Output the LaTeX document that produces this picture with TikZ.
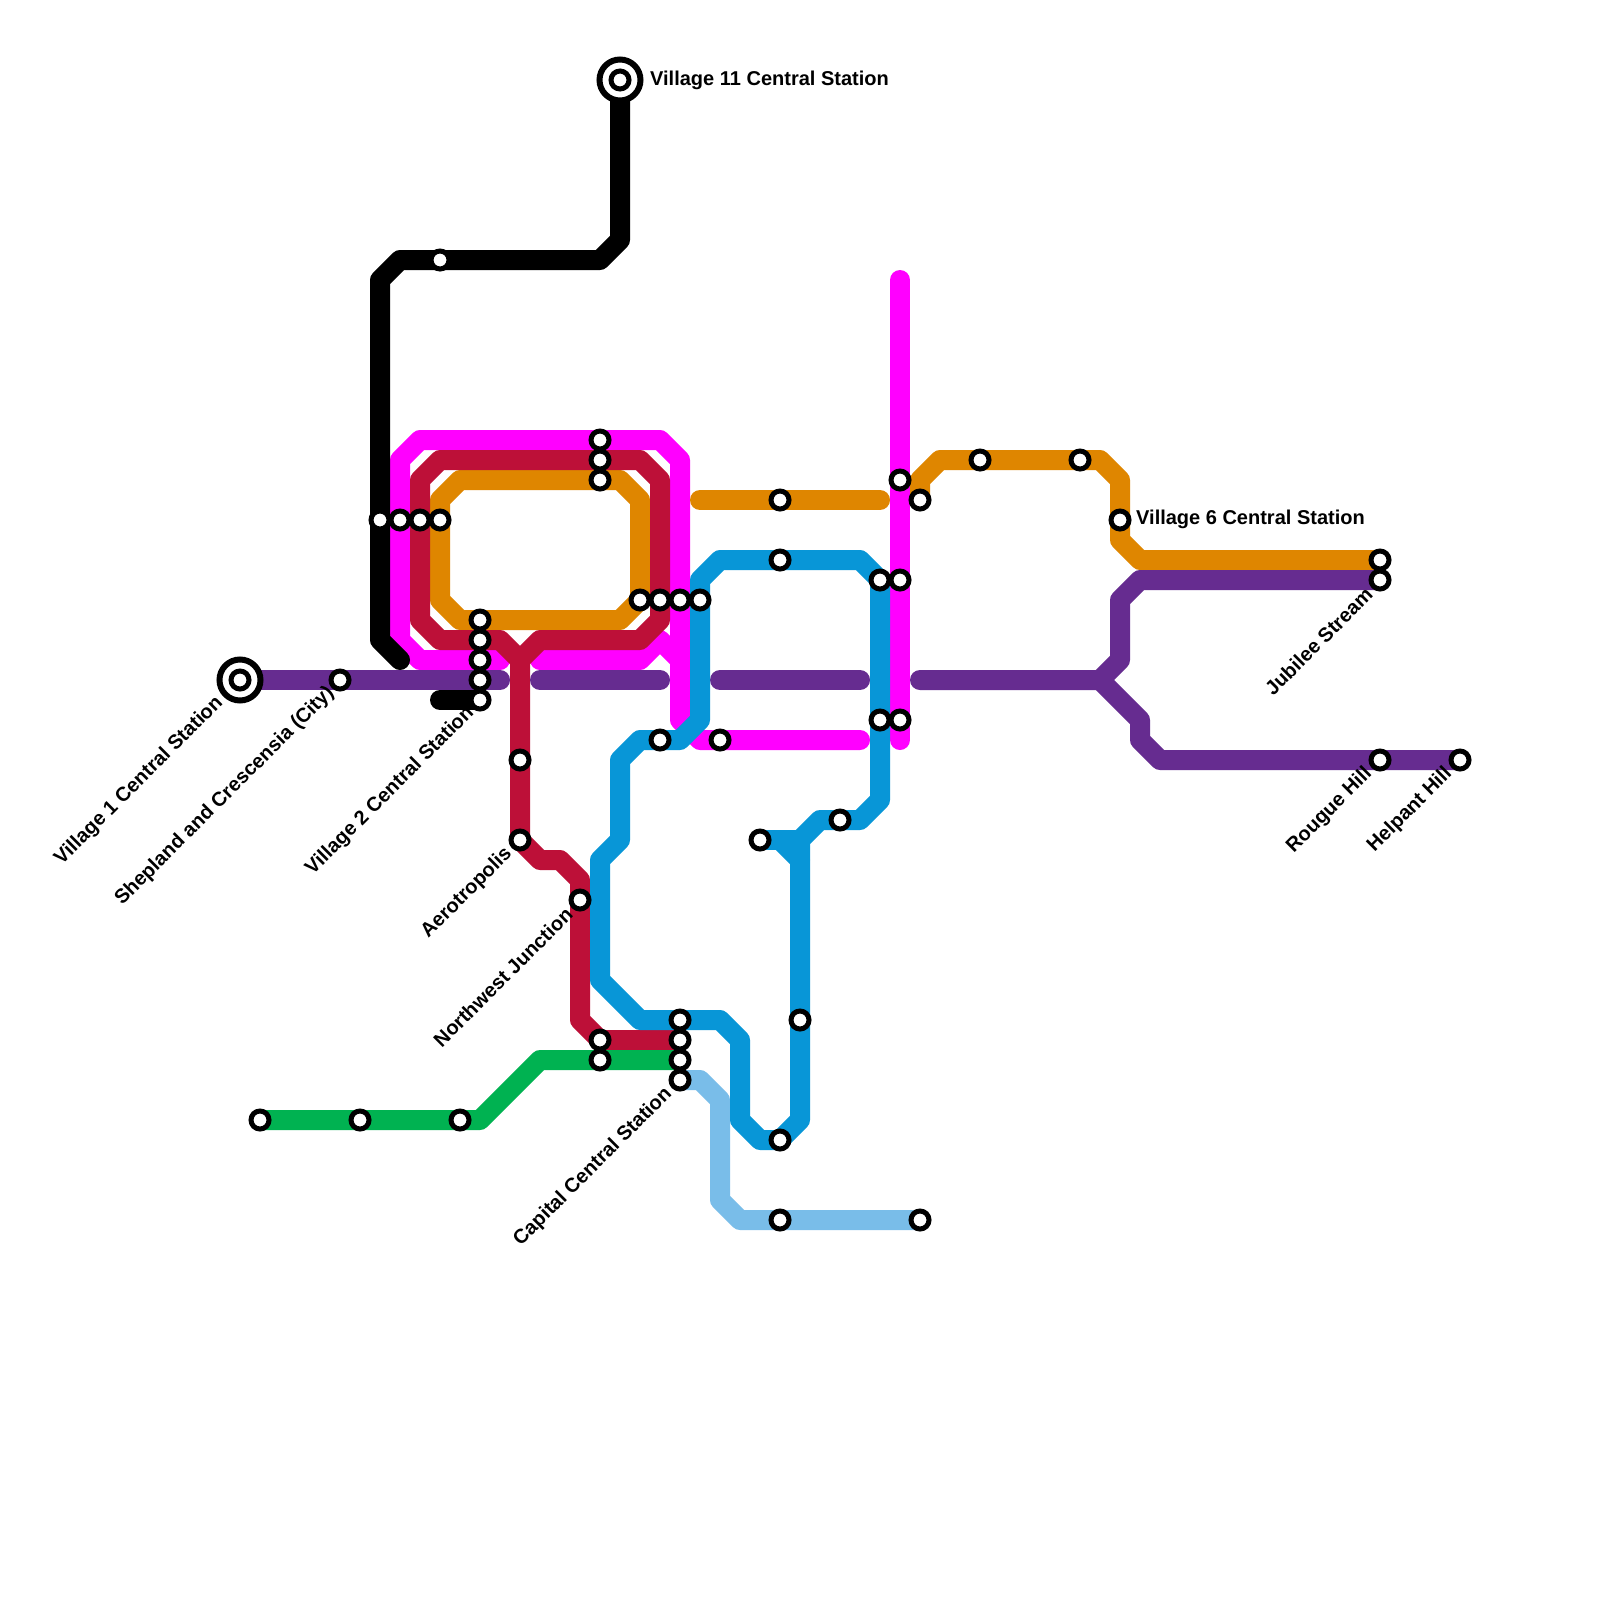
\documentclass[tikz,border=0pt]{standalone}
\usepackage{fontspec}
\setmainfont{Liberation Sans}
\definecolor{lblack}{HTML}{000000}
\definecolor{lmag}{HTML}{FF00FF}
\definecolor{lred}{HTML}{BD1038}
\definecolor{lorange}{HTML}{DF8600}
\definecolor{lpurple}{HTML}{662C90}
\definecolor{lblue}{HTML}{0896D7}
\definecolor{lsky}{HTML}{79BDE9}
\definecolor{lgreen}{HTML}{00B251}
\tikzset{
  metro/.style={line width=20pt,line cap=round,line join=round},
  stn/.style={circle,draw=black,fill=white,line width=5pt,minimum size=18pt,inner sep=0pt,outer sep=0pt},
  hub/.style={circle,draw=black,fill=white,line width=6pt,minimum size=41pt,inner sep=0pt,outer sep=0pt},
  lblr/.style={font=\bfseries\fontsize{20}{22}\selectfont,text=black,inner sep=0pt,anchor=east,rotate=45},
  lbls/.style={font=\bfseries\fontsize{20}{22}\selectfont,text=black,inner sep=0pt,anchor=west}
}
\begin{document}
\begin{tikzpicture}[x=1pt,y=-1pt]
\useasboundingbox (0,0) rectangle (1600,1600);
\fill[white] (0,0) rectangle (1600,1600);
\foreach \n/\x/\y in {
 v11/620/80, bka/440/260, bkb/380/520, mga/400/520, rda/420/520, ora/440/520,
 vii/480/620, vib/480/640, vic/480/660, v2p/480/680, v2/480/700,
 tpa/600/440, tpb/600/460, tpc/600/480,
 rta/640/600, rtb/660/600, rtc/680/600, rtd/700/600,
 v1/240/680, she/340/680, gra/260/1120, grb/360/1120, grc/460/1120,
 rdb/520/760, aer/520/840, nwj/580/900,
 blc/660/740, mgb/720/740, ore/780/500, blh/780/560,
 blr/880/580, mgc/900/580, bls/880/720, mgd/900/720,
 mge/900/480, orf/920/500, org/980/460, orh/1080/460, v6/1120/520,
 jub/1380/560, jup/1380/580, rou/1380/760, hel/1460/760,
 bld/760/840, ble/840/820, blf/800/1020, blg/780/1140, ska/780/1220, skb/920/1220,
 loa/600/1040, lob/600/1060, cca/680/1020, ccb/680/1040, ccc/680/1060, cap/680/1080}
 {\coordinate (\n) at (\x,\y);}
% magenta
\draw[metro,lmag] (500,660) -- (vic) -- (420,660) -- (400,640) -- (mga) -- (400,460) -- (420,440) -- (tpa) -- (660,440) -- (680,460) -- (rtc) -- (680,720) -- (700,740) -- (mgb) -- (860,740);
\draw[metro,lmag] (540,660) -- (640,660) -- (660,640) -- (680,660);
\draw[metro,lmag] (900,280) -- (mge) -- (mgc) -- (mgd) -- (900,740);
% orange
\draw[metro,lorange] (440,500) -- (460,480) -- (tpc) -- (620,480) -- (640,500) -- (rta) -- (620,620) -- (vii) -- (460,620) -- (440,600) -- cycle;
\draw[metro,lorange] (700,500) -- (ore) -- (880,500);
\draw[metro,lorange] (orf) -- (920,480) -- (940,460) -- (org) -- (orh) -- (1100,460) -- (1120,480) -- (v6) -- (1120,540) -- (1140,560) -- (jub);
% crimson
\draw[metro,lred] (420,480) -- (440,460) -- (tpb) -- (640,460) -- (660,480) -- (rtb) -- (660,620) -- (640,640) -- (540,640) -- (520,660) -- (500,640) -- (vib) -- (440,640) -- (420,620) -- cycle;
\draw[metro,lred] (520,660) -- (rdb) -- (aer) -- (540,860) -- (560,860) -- (580,880) -- (nwj) -- (580,1020) -- (loa) -- (ccb);
% green
\draw[metro,lgreen] (gra) -- (grb) -- (grc) -- (480,1120) -- (540,1060) -- (lob) -- (ccc);
% purple
\draw[metro,lpurple] (v1) -- (she) -- (v2p) -- (500,680);
\draw[metro,lpurple] (540,680) -- (660,680);
\draw[metro,lpurple] (720,680) -- (860,680);
\draw[metro,lpurple] (920,680) -- (1100,680) -- (1120,660) -- (1120,600) -- (1140,580) -- (jup);
\draw[metro,lpurple] (1100,680) -- (1140,720) -- (1140,740) -- (1160,760) -- (rou) -- (hel);
% light blue
\draw[metro,lsky] (cap) -- (700,1080) -- (720,1100) -- (720,1200) -- (740,1220) -- (ska) -- (skb);
% blue
\draw[metro,lblue] (rtd) -- (700,580) -- (720,560) -- (blh) -- (860,560) -- (blr) -- (bls) -- (880,800) -- (860,820) -- (ble) -- (820,820) -- (800,840) -- (blf) -- (800,1120) -- (blg) -- (760,1140) -- (740,1120) -- (740,1040) -- (720,1020) -- (cca) -- (640,1020) -- (600,980) -- (600,860) -- (620,840) -- (620,760) -- (640,740) -- (blc) -- (680,740) -- (700,720) -- cycle;
\draw[metro,lblue] (bld) -- (800,840);
\draw[metro,lblue] (780,840) -- (800,860);
% black
\draw[metro,lblack] (v11) -- (620,240) -- (600,260) -- (bka) -- (400,260) -- (380,280) -- (bkb) -- (380,640) -- (400,660);
\draw[metro,lblack] (440,700) -- (v2);
% stations
\foreach \n in {bka,bkb,mga,rda,ora,vii,vib,vic,v2p,v2,tpa,tpb,tpc,rta,rtb,rtc,rtd,she,gra,grb,grc,rdb,aer,nwj,blc,mgb,ore,blh,blr,mgc,bls,mgd,mge,orf,org,orh,v6,jub,jup,rou,hel,bld,ble,blf,blg,ska,skb,loa,lob,cca,ccb,ccc,cap}
 {\node[stn] (n\n) at (\n) {};}
\node[hub] (hv1) at (v1) {};
\node[hub] (hv11) at (v11) {};
\node[stn] (nv1) at (v1) {};
\node[stn] (nv11) at (v11) {};
% labels
\node[lbls] (tv11) at ([shift={(30,0)}]v11) {Village 11 Central Station};
\node[lbls] (tv6) at ([shift={(16,-1)}]v6) {Village 6 Central Station};
\node[lblr] (tv1) at ([shift={(-20,20)}]v1) {Village 1 Central Station};
\node[lblr] (tshe) at ([shift={(-9,10)}]she) {Shepland and Crescensia (City)};
\node[lblr] (tv2) at ([shift={(-9,10)}]v2) {Village 2 Central Station};
\node[lblr] (taer) at ([shift={(-11,11)}]aer) {Aerotropolis};
\node[lblr] (tnwj) at ([shift={(-11,11)}]nwj) {Northwest Junction};
\node[lblr] (tcap) at ([shift={(-11,11)}]cap) {Capital Central Station};
\node[lblr] (tjub) at ([shift={(-11,11)}]jup) {Jubilee Stream};
\node[lblr] (trou) at ([shift={(-11,11)}]rou) {Rougue Hill};
\node[lblr] (thel) at ([shift={(-11,11)}]hel) {Helpant Hill};
\end{tikzpicture}
\end{document}
